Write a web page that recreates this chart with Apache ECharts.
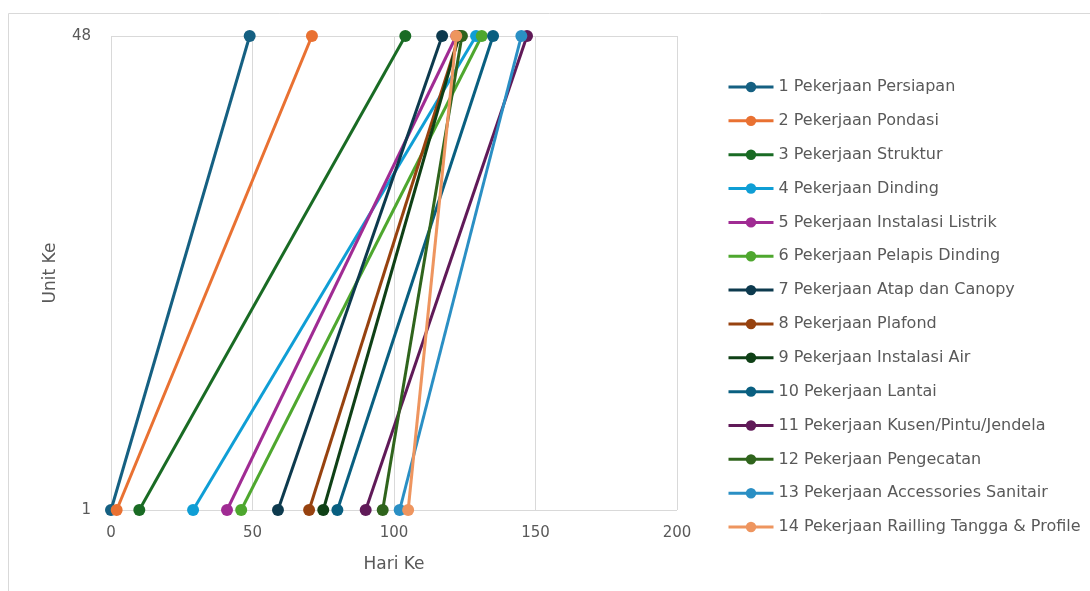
<!DOCTYPE html>
<html>
<head>
<meta charset="utf-8">
<script src="https://cdn.jsdelivr.net/npm/echarts@6/dist/echarts.min.js"></script>
<style>
  html, body { margin: 0; padding: 0; background: #fff; }
  #chart { width: 1090px; height: 591px; }
</style>
</head>
<body>
<div id="chart"></div>
<script>
  // data
  const units = ['1', '48']
  const taskNames = [
    '1 Pekerjaan Persiapan',
    '2 Pekerjaan Pondasi',
    '3 Pekerjaan Struktur',
    '4 Pekerjaan Dinding',
    '5 Pekerjaan Instalasi Listrik',
    '6 Pekerjaan Pelapis Dinding',
    '7 Pekerjaan Atap dan Canopy',
    '8 Pekerjaan Plafond',
    '9 Pekerjaan Instalasi Air',
    '10 Pekerjaan Lantai',
    '11 Pekerjaan Kusen/Pintu/Jendela',
    '12 Pekerjaan Pengecatan',
    '13 Pekerjaan Accessories Sanitair',
    '14 Pekerjaan Railling Tangga & Profile'
  ]
  const startDay = [0, 2, 10, 29, 41, 46, 59, 70, 75, 80, 90, 96, 102, 105]
  const endDay = [49, 71, 104, 129, 122, 131, 117, 123, 123, 135, 147, 124, 145, 122]
  const dayTicks = [0, 50, 100, 150, 200]

  const colors = ['#156082', '#E97132', '#196B24', '#0F9ED5', '#A02B93', '#4EA72E',
    '#0D3A4E', '#97420F', '#0F4016', '#095F80', '#601A58', '#2F641C', '#2A8FC4', '#EE955F']

  const txt = '#595959'
  const font = 'DejaVu Sans'

  const series = taskNames.map(function (name, i) {
    return {
      name: name,
      type: 'line',
      symbol: 'circle',
      symbolSize: 12,
      lineStyle: { width: 3 },
      data: [[startDay[i], units[0]], [endDay[i], units[1]]]
    }
  })

  const chart = echarts.init(document.getElementById('chart'))
  chart.setOption({
    animation: false,
    color: colors,
    textStyle: { fontFamily: font },
    graphic: [{
      type: 'rect',
      shape: { x: 8.5, y: 13.5, width: 1100, height: 600 },
      style: { fill: 'none', stroke: '#d9d9d9', lineWidth: 1 },
      silent: true
    }],
    grid: { left: 111, right: 413, top: 36, bottom: 81 },
    legend: {
      orient: 'vertical',
      left: 722,
      top: 74,
      itemWidth: 45,
      itemHeight: 13,
      itemGap: 17.85,
      lineStyle: { width: 3 },
      textStyle: { color: txt, fontSize: 16, lineHeight: 15, fontFamily: font },
      data: taskNames
    },
    xAxis: {
      type: 'value',
      min: 0,
      max: 200,
      interval: dayTicks[1] - dayTicks[0],
      name: 'Hari Ke',
      nameLocation: 'middle',
      nameGap: 46,
      nameTextStyle: { color: txt, fontSize: 17 },
      axisLine: { show: false },
      axisTick: { show: false },
      axisLabel: { color: txt, fontSize: 15, margin: 16 },
      splitLine: { lineStyle: { color: '#d9d9d9' } }
    },
    yAxis: {
      type: 'category',
      data: units,
      boundaryGap: false,
      name: 'Unit Ke',
      nameLocation: 'middle',
      nameGap: 52,
      nameTextStyle: { color: txt, fontSize: 17 },
      axisLine: { show: false },
      axisTick: { show: false },
      axisLabel: { color: txt, fontSize: 15, margin: 20 },
      splitLine: { show: true, lineStyle: { color: '#d9d9d9' } }
    },
    series: series
  })
</script>
</body>
</html>
